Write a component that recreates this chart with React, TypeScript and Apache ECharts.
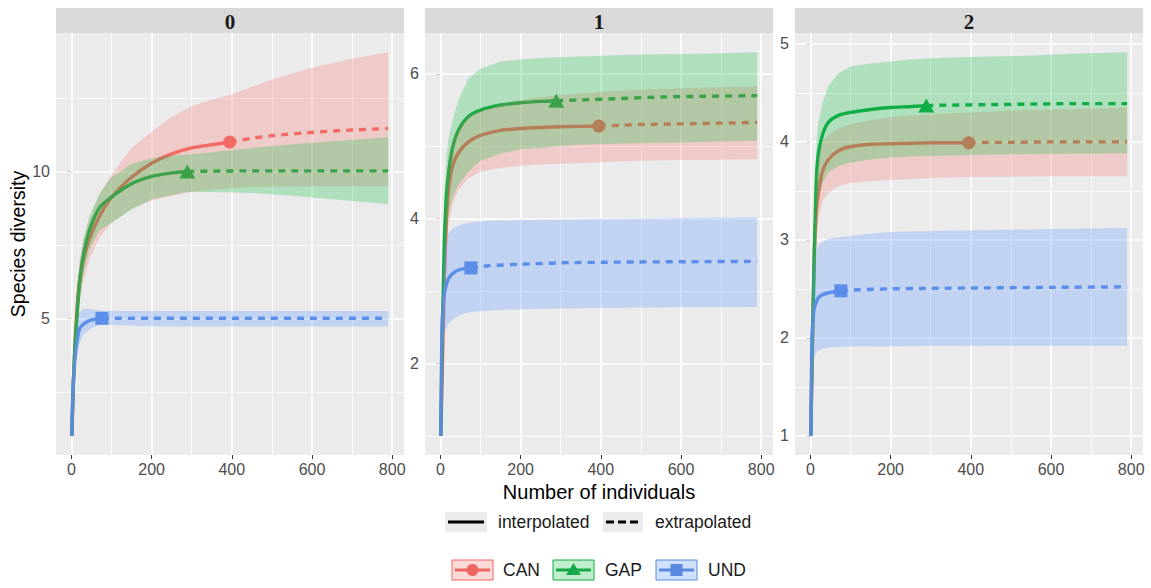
import { useEffect, useRef } from "react";
import * as echarts from "echarts";

// Diversity orders shown as facets, and the three assemblages
const ORDERS = ["0", "1", "2"];
const SITES = ["CAN", "GAP", "UND"];
// Reference (observed) sample size of each assemblage
const REF_SIZE = [395, 289, 76];

// Sample sizes (knots) at which each assemblage's curve is evaluated
const SIZE_CAN = [1, 5, 10, 15, 20, 30, 45, 70, 100, 150, 200, 250, 300, 350, 395, 450, 500, 600, 700, 790];
const SIZE_GAP = [1, 5, 10, 15, 20, 30, 45, 70, 100, 150, 200, 250, 289, 350, 450, 550, 650, 790];
const SIZE_UND = [1, 4, 8, 12, 20, 30, 45, 60, 76, 120, 200, 300, 450, 600, 790];

// q = 0
const Q0_CAN_EST = [1, 2.8, 4.4, 5.5, 6.2, 7.0, 7.7, 8.48, 9.12, 9.8, 10.28, 10.6, 10.8, 10.91, 11.0, 11.13, 11.22, 11.33, 11.41, 11.46];
const Q0_CAN_LO = [1, 2.4, 3.8, 4.8, 5.5, 6.3, 7.0, 7.75, 8.25, 8.75, 9.0, 9.17, 9.3, 9.38, 9.42, 9.46, 9.48, 9.5, 9.5, 9.5];
const Q0_CAN_HI = [1, 3.2, 5.0, 6.2, 6.9, 7.7, 8.35, 9.2, 9.9, 10.8, 11.35, 11.85, 12.22, 12.45, 12.6, 12.88, 13.13, 13.53, 13.84, 14.06];
const Q0_GAP_EST = [1, 2.9, 4.3, 5.3, 6.2, 7.15, 8.0, 8.77, 9.13, 9.58, 9.83, 9.95, 10.0, 10.01, 10.02, 10.02, 10.02, 10.02];
const Q0_GAP_LO = [1, 2.5, 3.6, 4.5, 5.5, 6.5, 7.35, 8.0, 8.25, 8.7, 9.05, 9.2, 9.3, 9.3, 9.27, 9.17, 9.05, 8.88];
const Q0_GAP_HI = [1, 3.3, 5.0, 6.0, 6.8, 7.7, 8.5, 9.25, 9.8, 10.25, 10.45, 10.55, 10.58, 10.65, 10.8, 10.93, 11.03, 11.16];
const Q0_UND_EST = [1, 2.6, 3.5, 4.05, 4.64, 4.8, 4.92, 4.97, 5.0, 5.0, 5.0, 5.0, 5.0, 5.0, 5.0];
const Q0_UND_LO = [1, 2.2, 3.0, 3.5, 4.15, 4.45, 4.62, 4.72, 4.8, 4.76, 4.73, 4.72, 4.72, 4.72, 4.72];
const Q0_UND_HI = [1, 3.0, 4.0, 4.6, 5.2, 5.33, 5.32, 5.28, 5.26, 5.25, 5.25, 5.25, 5.25, 5.25, 5.25];

// q = 1
const Q1_CAN_EST = [1, 2.0, 3.2, 4.0, 4.4, 4.72, 4.91, 5.06, 5.15, 5.22, 5.245, 5.26, 5.27, 5.275, 5.28, 5.29, 5.3, 5.31, 5.32, 5.33];
const Q1_CAN_LO = [1, 1.7, 2.8, 3.55, 3.9, 4.2, 4.4, 4.56, 4.65, 4.7, 4.73, 4.75, 4.76, 4.77, 4.78, 4.79, 4.8, 4.81, 4.815, 4.82];
const Q1_CAN_HI = [1, 2.3, 3.6, 4.5, 4.85, 5.1, 5.27, 5.42, 5.5, 5.58, 5.64, 5.68, 5.71, 5.73, 5.75, 5.77, 5.78, 5.8, 5.82, 5.83];
const Q1_GAP_EST = [1, 2.5, 3.7, 4.32, 4.62, 4.97, 5.22, 5.41, 5.5, 5.57, 5.6, 5.62, 5.63, 5.64, 5.66, 5.68, 5.69, 5.7];
const Q1_GAP_LO = [1, 2.0, 3.1, 3.7, 4.05, 4.3, 4.47, 4.65, 4.8, 4.9, 4.96, 4.98, 5.0, 5.02, 5.04, 5.05, 5.06, 5.08];
const Q1_GAP_HI = [1, 3.0, 4.3, 4.85, 5.1, 5.35, 5.64, 5.94, 6.07, 6.17, 6.2, 6.22, 6.23, 6.24, 6.26, 6.27, 6.28, 6.3];
const Q1_UND_EST = [1, 2.5, 2.88, 3.03, 3.17, 3.24, 3.29, 3.31, 3.32, 3.35, 3.37, 3.39, 3.4, 3.405, 3.41];
const Q1_UND_LO = [1, 2.1, 2.35, 2.45, 2.55, 2.6, 2.66, 2.69, 2.71, 2.73, 2.75, 2.76, 2.77, 2.775, 2.78];
const Q1_UND_HI = [1, 2.9, 3.4, 3.6, 3.8, 3.86, 3.91, 3.93, 3.95, 3.97, 3.98, 3.99, 4.0, 4.01, 4.02];

// q = 2
const Q2_CAN_EST = [1, 1.9, 2.9, 3.3, 3.48, 3.7, 3.82, 3.91, 3.95, 3.975, 3.98, 3.985, 3.99, 3.99, 3.99, 3.995, 3.995, 4.0, 4.0, 4.0];
const Q2_CAN_LO = [1, 1.7, 2.6, 3.0, 3.2, 3.4, 3.48, 3.55, 3.58, 3.6, 3.61, 3.62, 3.63, 3.635, 3.64, 3.645, 3.645, 3.65, 3.65, 3.65];
const Q2_CAN_HI = [1, 2.1, 3.2, 3.65, 3.85, 4.0, 4.07, 4.14, 4.18, 4.22, 4.25, 4.27, 4.28, 4.29, 4.3, 4.31, 4.32, 4.33, 4.34, 4.35];
const Q2_GAP_EST = [1, 2.0, 2.9, 3.62, 3.88, 4.07, 4.2, 4.27, 4.3, 4.33, 4.35, 4.36, 4.37, 4.375, 4.38, 4.385, 4.39, 4.39];
const Q2_GAP_LO = [1, 1.7, 2.5, 3.2, 3.42, 3.58, 3.69, 3.75, 3.79, 3.82, 3.84, 3.85, 3.855, 3.86, 3.87, 3.875, 3.878, 3.88];
const Q2_GAP_HI = [1, 2.3, 3.3, 4.0, 4.2, 4.4, 4.57, 4.7, 4.77, 4.8, 4.82, 4.84, 4.85, 4.86, 4.87, 4.88, 4.9, 4.915];
const Q2_UND_EST = [1, 2.0, 2.26, 2.34, 2.41, 2.44, 2.46, 2.47, 2.48, 2.49, 2.5, 2.505, 2.51, 2.515, 2.52];
const Q2_UND_LO = [1, 1.65, 1.78, 1.83, 1.87, 1.89, 1.9, 1.905, 1.91, 1.912, 1.915, 1.917, 1.918, 1.92, 1.92];
const Q2_UND_HI = [1, 2.4, 2.7, 2.85, 2.95, 2.98, 3.01, 3.02, 3.03, 3.05, 3.08, 3.09, 3.1, 3.11, 3.12];

// Axis ticks
const X_MAJOR = [0, 200, 400, 600, 800];
const X_MINOR = [100, 300, 500, 700];
const Y_MAJOR = [[5, 10], [2, 4, 6], [1, 2, 3, 4, 5]];
const Y_MINOR = [[2.5, 7.5, 12.5], [1, 3, 5], [1.5, 2.5, 3.5, 4.5]];

const SIZES = [SIZE_CAN, SIZE_GAP, SIZE_UND];
const EST = [
  [Q0_CAN_EST, Q0_GAP_EST, Q0_UND_EST],
  [Q1_CAN_EST, Q1_GAP_EST, Q1_UND_EST],
  [Q2_CAN_EST, Q2_GAP_EST, Q2_UND_EST],
];
const LO = [
  [Q0_CAN_LO, Q0_GAP_LO, Q0_UND_LO],
  [Q1_CAN_LO, Q1_GAP_LO, Q1_UND_LO],
  [Q2_CAN_LO, Q2_GAP_LO, Q2_UND_LO],
];
const HI = [
  [Q0_CAN_HI, Q0_GAP_HI, Q0_UND_HI],
  [Q1_CAN_HI, Q1_GAP_HI, Q1_UND_HI],
  [Q2_CAN_HI, Q2_GAP_HI, Q2_UND_HI],
];

// Styling
const LINE_COLORS = ["#EF6661", "#14A848", "#5889DE"];
const RIBBON_FILLS = ["rgba(248,118,109,0.27)", "rgba(0,186,56,0.25)", "rgba(97,156,255,0.3)"];
const SYMBOLS = ["circle", "triangle", "rect"];
const SYMBOL_SIZES: any[] = [13, [16, 14], 13];
const SANS = "Liberation Sans, Arial, sans-serif";
const SERIF = "Liberation Serif, Times New Roman, serif";

const PANEL_LEFT = [56, 425, 795];
const PANEL_W = 348;
const PANEL_TOP = 33;
const PANEL_H = 422;
const STRIP_TOP = 8;

function expand(lo: number, hi: number) {
  const pad = (hi - lo) * 0.05;
  return [lo - pad, hi + pad];
}

function ribbonItem(m: number[], lo: number[], hi: number[], fill: string) {
  return (params: any, api: any) => {
    if (params.dataIndex !== 0) return null;
    const pts: number[][] = [];
    for (let i = 0; i < m.length; i++) pts.push(api.coord([m[i], hi[i]]));
    for (let i = m.length - 1; i >= 0; i--) pts.push(api.coord([m[i], lo[i]]));
    return { type: "polygon", silent: true, shape: { points: pts }, style: { fill } };
  };
}

function buildOption() {
  const allSizes = SIZES.flat();
  const xRange = expand(Math.min(...allSizes), Math.max(...allSizes));

  const grids: any[] = [];
  const xAxes: any[] = [];
  const yAxes: any[] = [];
  const series: any[] = [];
  const graphics: any[] = [];

  ORDERS.forEach((order, f) => {
    const yLo = Math.min(...LO[f].flat());
    const yHi = Math.max(...HI[f].flat());
    const yRange = expand(yLo, yHi);

    grids.push({
      left: PANEL_LEFT[f],
      top: PANEL_TOP,
      width: PANEL_W,
      height: PANEL_H,
      show: true,
      backgroundColor: "#EBEBEB",
      borderWidth: 0,
    });

    xAxes.push({
      type: "value",
      gridIndex: f,
      min: xRange[0],
      max: xRange[1],
      axisLine: { show: false },
      splitLine: { show: false },
      axisTick: { show: true, length: 4, customValues: X_MAJOR, lineStyle: { color: "#333333", width: 1 } },
      axisLabel: { customValues: X_MAJOR, margin: 6, color: "#4D4D4D", fontSize: 16, fontFamily: SANS },
      name: f === 1 ? "Number of individuals" : "",
      nameLocation: "middle",
      nameGap: 26,
      nameTextStyle: { color: "#000000", fontSize: 20, fontFamily: SANS },
    });

    yAxes.push({
      type: "value",
      gridIndex: f,
      min: yRange[0],
      max: yRange[1],
      axisLine: { show: false },
      splitLine: { show: false },
      axisTick: { show: true, length: 4, customValues: Y_MAJOR[f], lineStyle: { color: "#333333", width: 1 } },
      axisLabel: { customValues: Y_MAJOR[f], margin: 6, color: "#4D4D4D", fontSize: 16, fontFamily: SANS },
      name: f === 0 ? "Species diversity" : "",
      nameLocation: "middle",
      nameGap: 27,
      nameTextStyle: { color: "#000000", fontSize: 19.5, fontFamily: SANS },
    });

    // Panel grid lines, kept beneath the curves and bands
    const major = { color: "#FFFFFF", width: 1.6, type: "solid" };
    const minor = { color: "#FFFFFF", width: 0.8, type: "solid" };
    series.push({
      type: "line",
      xAxisIndex: f,
      yAxisIndex: f,
      data: [],
      z: 1,
      silent: true,
      markLine: {
        z: 1,
        silent: true,
        symbol: ["none", "none"],
        label: { show: false },
        emphasis: { disabled: true },
        data: [
          ...X_MINOR.map((v) => ({ xAxis: v, lineStyle: minor })),
          ...Y_MINOR[f].map((v) => ({ yAxis: v, lineStyle: minor })),
          ...X_MAJOR.map((v) => ({ xAxis: v, lineStyle: major })),
          ...Y_MAJOR[f].map((v) => ({ yAxis: v, lineStyle: major })),
        ],
      },
    });

    SITES.forEach((site, s) => {
      const m = SIZES[s];
      const est = EST[f][s];
      const ref = REF_SIZE[s];
      const pts = m.map((x, i) => [x, est[i]]);
      const interp = pts.filter((p) => p[0] <= ref);
      const extrap = pts.filter((p) => p[0] >= ref);
      const refPoint = pts.filter((p) => p[0] === ref);

      series.push({
        name: site,
        type: "line",
        xAxisIndex: f,
        yAxisIndex: f,
        data: interp,
        showSymbol: false,
        smooth: 0.25,
        z: 2,
        silent: true,
        lineStyle: { color: LINE_COLORS[s], width: 3.4 },
      });
      series.push({
        name: site,
        type: "line",
        xAxisIndex: f,
        yAxisIndex: f,
        data: extrap,
        showSymbol: false,
        smooth: 0.25,
        z: 2,
        silent: true,
        lineStyle: { color: LINE_COLORS[s], width: 3.4, type: [7, 6] },
      });
      series.push({
        name: site,
        type: "scatter",
        xAxisIndex: f,
        yAxisIndex: f,
        data: refPoint,
        symbol: SYMBOLS[s],
        symbolSize: SYMBOL_SIZES[s],
        z: 2,
        silent: true,
        itemStyle: { color: LINE_COLORS[s], opacity: 1 },
      });
    });

    // Confidence bands drawn over the curves
    SITES.forEach((site, s) => {
      const m = SIZES[s];
      const lo = LO[f][s];
      const hi = HI[f][s];
      series.push({
        name: site + " band",
        type: "custom",
        xAxisIndex: f,
        yAxisIndex: f,
        z: 3,
        silent: true,
        data: m.map((x, i) => [x, lo[i], hi[i]]),
        encode: { x: 0, y: [1, 2] },
        renderItem: ribbonItem(m, lo, hi, RIBBON_FILLS[s]),
      });
    });

    // Facet strip
    graphics.push({
      type: "rect",
      shape: { x: PANEL_LEFT[f], y: STRIP_TOP, width: PANEL_W, height: PANEL_TOP - STRIP_TOP },
      style: { fill: "#D9D9D9" },
      silent: true,
    });
    graphics.push({
      type: "text",
      x: PANEL_LEFT[f] + PANEL_W / 2,
      y: (STRIP_TOP + PANEL_TOP) / 2 + 1,
      style: {
        text: order,
        fontFamily: SERIF,
        fontWeight: "bold",
        fontSize: 21,
        fill: "#1A1A1A",
        align: "center",
        verticalAlign: "middle",
      },
      silent: true,
    });
  });

  // Legend: line type
  const r1 = 522;
  graphics.push(
    { type: "rect", shape: { x: 445, y: r1 - 10, width: 42, height: 20 }, style: { fill: "#EBEBEB" } },
    { type: "line", shape: { x1: 448, y1: r1, x2: 484, y2: r1 }, style: { stroke: "#000000", lineWidth: 3 } },
    {
      type: "text",
      x: 498,
      y: r1,
      style: { text: "interpolated", fontFamily: SANS, fontSize: 17.5, fill: "#1A1A1A", verticalAlign: "middle" },
    },
    { type: "rect", shape: { x: 603, y: r1 - 10, width: 40, height: 20 }, style: { fill: "#EBEBEB" } },
    {
      type: "line",
      shape: { x1: 606, y1: r1, x2: 641, y2: r1 },
      style: { stroke: "#000000", lineWidth: 3, lineDash: [8, 4] },
    },
    {
      type: "text",
      x: 655,
      y: r1,
      style: { text: "extrapolated", fontFamily: SANS, fontSize: 17.5, fill: "#1A1A1A", verticalAlign: "middle" },
    }
  );

  // Legend: assemblages
  const r2 = 570;
  const keyX = [452, 553, 656];
  const textX = [503, 605, 708];
  SITES.forEach((site, s) => {
    const x0 = keyX[s];
    const cx = x0 + 20.5;
    graphics.push({
      type: "rect",
      shape: { x: x0, y: r2 - 10, width: 41, height: 20 },
      style: { fill: RIBBON_FILLS[s], stroke: LINE_COLORS[s], lineWidth: 1 },
    });
    graphics.push({
      type: "line",
      shape: { x1: x0 + 3, y1: r2, x2: x0 + 38, y2: r2 },
      style: { stroke: LINE_COLORS[s], lineWidth: 3 },
    });
    if (s === 0) {
      graphics.push({ type: "circle", shape: { cx, cy: r2, r: 6 }, style: { fill: LINE_COLORS[s] } });
    } else if (s === 1) {
      graphics.push({
        type: "polygon",
        shape: { points: [[cx, r2 - 7], [cx - 7.5, r2 + 5], [cx + 7.5, r2 + 5]] },
        style: { fill: LINE_COLORS[s] },
      });
    } else {
      graphics.push({ type: "rect", shape: { x: cx - 6, y: r2 - 6, width: 12, height: 12 }, style: { fill: LINE_COLORS[s] } });
    }
    graphics.push({
      type: "text",
      x: textX[s],
      y: r2,
      style: { text: site, fontFamily: SANS, fontSize: 17.5, fill: "#1A1A1A", verticalAlign: "middle" },
    });
  });

  return {
    animation: false,
    backgroundColor: "#FFFFFF",
    grid: grids,
    xAxis: xAxes,
    yAxis: yAxes,
    series,
    graphic: graphics,
  };
}

export default function App() {
  const ref = useRef<HTMLDivElement>(null);
  useEffect(() => {
    if (!ref.current) return;
    const chart = echarts.init(ref.current, undefined, { renderer: "svg" });
    chart.setOption(buildOption() as any);
    return () => chart.dispose();
  }, []);
  return (
    <div
      ref={ref}
      style={{ position: "absolute", left: 0, top: 0, width: 1151, height: 588, background: "#FFFFFF" }}
    />
  );
}
